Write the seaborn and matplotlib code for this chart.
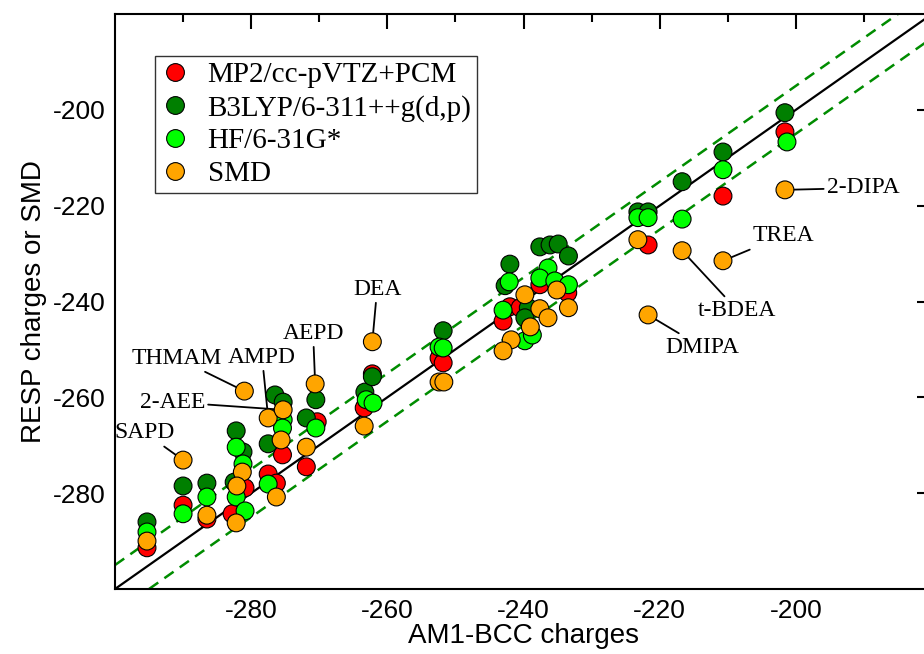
import numpy as np
import pandas as pd
import matplotlib
matplotlib.use("Agg")
import matplotlib.pyplot as plt
from matplotlib.lines import Line2D
import seaborn as sns

# ---------------- data ----------------
series_names = ["MP2/cc-pVTZ+PCM", "B3LYP/6-311++g(d,p)", "HF/6-31G*", "SMD"]
series_colors = ["#ff0000", "#007f00", "#00ff00", "#ffa500"]

mp2_x = [-295.3, -290.0, -286.5, -282.8, -280.9, -277.5, -276.3, -275.4, -271.9, -270.3,
         -263.4, -262.2, -252.4, -251.8, -243.0, -242.0, -240.5, -237.6, -233.5, -221.7,
         -210.7, -201.6]
mp2_y = [-291.4, -282.5, -285.4, -284.3, -278.9, -276.0, -277.9, -272.0, -274.5, -265.1,
         -262.2, -255.1, -251.8, -252.8, -244.1, -241.1, -241.3, -236.5, -238.2, -228.2,
         -218.0, -204.6]

b3lyp_x = [-295.3, -290.0, -286.5, -282.2, -281.2, -282.5, -276.5, -275.3, -277.5, -270.5,
           -271.9, -263.3, -262.2, -251.8, -242.0, -242.7, -239.3, -239.8, -237.6, -236.1,
           -234.9, -233.4, -223.2, -221.7, -216.7, -210.7, -201.6]
b3lyp_y = [-286.0, -278.5, -277.9, -267.0, -271.4, -277.7, -259.5, -261.0, -269.7, -260.5,
           -264.3, -258.9, -255.7, -246.1, -232.2, -236.7, -241.3, -243.4, -228.6, -228.2,
           -228.0, -230.5, -221.3, -221.3, -215.0, -208.8, -200.6]

hf_x = [-295.3, -290.0, -286.5, -282.2, -281.2, -282.2, -280.9, -275.3, -275.4, -277.5,
        -270.5, -263.1, -262.1, -252.4, -251.8, -242.1, -243.0, -239.8, -238.7, -236.4,
        -237.6, -235.4, -233.4, -223.2, -221.7, -216.7, -210.7, -201.3]
hf_y = [-288.1, -284.3, -280.8, -270.4, -273.9, -280.8, -283.7, -264.7, -266.4, -278.1,
        -266.4, -260.5, -261.2, -249.5, -249.7, -235.9, -241.8, -248.2, -247.0, -233.0,
        -235.1, -235.7, -236.5, -222.5, -222.5, -222.8, -212.5, -206.7]

smd_x = [-295.3, -290.0, -286.5, -281.3, -282.1, -282.2, -281.0, -277.5, -275.3, -275.6,
         -276.3, -270.6, -271.9, -262.2, -263.4, -252.4, -251.7, -239.8, -239.0, -241.8,
         -243.0, -235.1, -237.6, -236.4, -233.4, -223.2, -221.7, -216.7, -210.7, -201.6]
smd_y = [-290.0, -273.1, -284.6, -275.6, -278.5, -286.2, -258.7, -264.3, -262.6, -268.9,
         -280.8, -257.2, -270.4, -248.4, -266.0, -256.8, -256.8, -238.6, -245.3, -248.0,
         -250.3, -237.6, -241.5, -243.4, -241.3, -227.1, -242.8, -229.4, -231.5, -216.7]

# labelled SMD points: name, index into smd arrays, text centre (data units)
label_names = ["2-DIPA", "TREA", "t-BDEA", "DMIPA", "DEA", "AEPD", "AMPD", "THMAM", "2-AEE", "SAPD"]
label_index = [29, 28, 27, 26, 13, 11, 7, 6, 8, 1]
label_text_x = [-190.1, -201.9, -208.6, -213.8, -261.5, -270.9, -278.4, -290.9, -291.6, -295.6]
label_text_y = [-216.3, -226.3, -241.8, -249.5, -237.4, -246.6, -251.6, -251.8, -261.0, -267.4]

band_offset = 5.0
x_ticks = [-280, -260, -240, -220, -200]
y_ticks = [-280, -260, -240, -220, -200]
x_label = "AM1-BCC charges"
y_label = "RESP charges or SMD"

# ---------------- frame ----------------
frames = []
for name, xs, ys in zip(series_names, [mp2_x, b3lyp_x, hf_x, smd_x], [mp2_y, b3lyp_y, hf_y, smd_y]):
    frames.append(pd.DataFrame({"x": xs, "y": ys, "method": name}))
df = pd.concat(frames, ignore_index=True)
palette = dict(zip(series_names, series_colors))

sns.set_style("white")
plt.rcParams["font.family"] = ["Liberation Sans", "DejaVu Sans"]
plt.rcParams["axes.unicode_minus"] = False
plt.rcParams["text.color"] = "black"
plt.rcParams["axes.labelcolor"] = "black"
plt.rcParams["xtick.color"] = "black"
plt.rcParams["ytick.color"] = "black"

fig = plt.figure(figsize=(9.24, 6.54), dpi=100)
ax = fig.add_axes([115 / 924, 65 / 654, (932 - 115) / 924, (589 - 14) / 654])

# reference lines
ax.axline((-300, -300), slope=1, color="black", lw=1.6, zorder=2)
for off in (band_offset, -band_offset):
    ax.axline((-300, -300 + off), slope=1, color="#008c00", lw=1.8,
              linestyle=(0, (4.5, 3.0)), zorder=2)

sns.scatterplot(data=df, x="x", y="y", hue="method", hue_order=series_names,
                palette=palette, s=165, edgecolor="black", linewidth=0.8,
                legend=False, ax=ax, zorder=3)

# annotations
for name, idx, tx, ty in zip(label_names, label_index, label_text_x, label_text_y):
    ax.annotate(name, xy=(smd_x[idx], smd_y[idx]), xytext=(tx, ty),
                ha="center", va="center", fontsize=17, color="black",
                family=["Liberation Serif", "DejaVu Serif"],
                arrowprops=dict(arrowstyle="-", color="black", lw=1.3,
                                shrinkA=0, shrinkB=0),
                zorder=1)

ax.set_xlim(-300, -180)
ax.set_ylim(-300, -180)
ax.set_xticks(x_ticks)
ax.set_yticks(y_ticks)
ax.set_xticks(np.arange(-290, -180, 10), minor=True)
ax.set_yticks(np.arange(-290, -180, 10), minor=True)
ax.tick_params(which="both", direction="in", top=True, right=True, width=1.5,
               labelsize=19, pad=7, colors="black")
ax.tick_params(which="major", length=11)
ax.tick_params(which="minor", length=5.5)
for sp in ax.spines.values():
    sp.set_linewidth(1.5)
    sp.set_color("black")
ax.set_xlabel(x_label, fontsize=20, labelpad=0, color="black")
ax.set_ylabel(y_label, fontsize=20, labelpad=4, color="black")

handles = [Line2D([], [], marker="o", linestyle="none", markersize=12.8,
                  markerfacecolor=c, markeredgecolor="black", markeredgewidth=0.8)
           for c in series_colors]
leg = ax.legend(handles, series_names, loc="upper left",
                bbox_to_anchor=((155 - 115) / 817, 1 - (56 - 14) / 575),
                borderaxespad=0, frameon=True, fancybox=False,
                prop={"family": ["Liberation Serif", "DejaVu Serif"], "size": 21},
                borderpad=0.2, handlelength=1.0, handletextpad=0.6,
                labelspacing=0.22)
leg.get_frame().set_edgecolor("black")
leg.get_frame().set_linewidth(1.0)
for t in leg.get_texts():
    t.set_color("black")

fig.savefig("out.png", dpi=100)
